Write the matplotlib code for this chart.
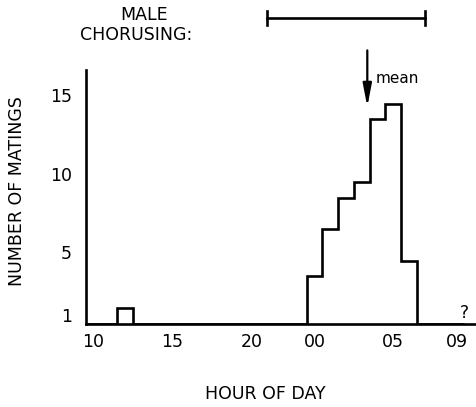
import matplotlib.pyplot as plt
import numpy as np
from matplotlib.transforms import ScaledTranslation

# matings per hour (hour of day -> count)
mating_hours = [12, 0, 1, 2, 3, 4, 5, 6]
mating_counts = [1, 3, 6, 8, 9, 13, 14, 4]

x_ticks = [10, 15, 20, 0, 5, 9]
x_tick_labels = ['10', '15', '20', '00', '05', '09']
y_ticks = [1, 5, 10, 15]

chorus_start = 21
chorus_end = 7
mean_hour = 3.35

START = 10  # x axis starts at 10:00


def offset(h):
    return (h - START) % 24


def main():
    plt.rcParams['font.family'] = ['DejaVu Sans']
    fig = plt.figure(figsize=(4.77, 4.07), dpi=100)
    W, H = 477, 407
    ax = fig.add_axes([86.5 / W, 83.5 / H, (W - 86.5) / W, 253.5 / H])

    counts = np.zeros(24)
    for h, c in zip(mating_hours, mating_counts):
        counts[offset(h)] = c
    edges = np.arange(25) - 0.5
    ax.stairs(counts, edges, baseline=0, color='black', lw=1.9)

    ax.set_xlim(-0.44, 24.3)
    ax.set_ylim(0, 16.15)
    for s in ['top', 'right']:
        ax.spines[s].set_visible(False)
    for s in ['left', 'bottom']:
        ax.spines[s].set_linewidth(1.9)

    ax.set_xticks([offset(h) for h in x_ticks])
    ax.set_xticklabels(x_tick_labels)
    ax.set_yticks(y_ticks)
    ax.set_yticklabels([str(v) for v in y_ticks])
    ax.tick_params(axis='both', length=0, labelsize=12.5)
    ax.tick_params(axis='x', pad=7)
    ax.tick_params(axis='y', pad=10.5)
    shift = ScaledTranslation(0, -7 / 100, fig.dpi_scale_trans)
    for lab in ax.get_yticklabels():
        lab.set_transform(lab.get_transform() + shift)

    ax.text(offset(9) + 0.5, 0.7, '?', fontsize=12.5, ha='center', va='center')

    # male chorusing range
    y_bar = 19.44
    x0, x1 = offset(chorus_start), offset(chorus_end)
    ax.plot([x0, x1], [y_bar, y_bar], color='black', lw=1.9, clip_on=False)
    for xx in [x0, x1]:
        ax.plot([xx, xx], [y_bar - 0.45, y_bar + 0.45], color='black', lw=1.9, clip_on=False)

    # mean arrow
    xm = offset(mean_hour)
    ax.annotate('', xy=(xm, 13.8), xytext=(xm, 17.4),
                arrowprops=dict(arrowstyle='-|>,head_length=1.15,head_width=0.22',
                                color='black', lw=1.6, mutation_scale=12,
                                shrinkA=0, shrinkB=0),
                annotation_clip=False)
    ax.text(xm + 0.55, 15.6, 'mean', fontsize=11, ha='left', va='center')

    fig.text(144 / W, 1 - 15 / H, 'MALE', fontsize=12.5, ha='center', va='center')
    fig.text(136.5 / W, 1 - 35 / H, 'CHORUSING:', fontsize=12.5, ha='center', va='center')
    fig.text(265 / W, 1 - 394 / H, 'HOUR OF DAY', fontsize=12.5, ha='center', va='center')
    fig.text(17.5 / W, 1 - 191 / H, 'NUMBER OF MATINGS', fontsize=12.5,
             ha='center', va='center', rotation=90)

    fig.savefig('out.png', dpi=100)


if __name__ == '__main__':
    main()
